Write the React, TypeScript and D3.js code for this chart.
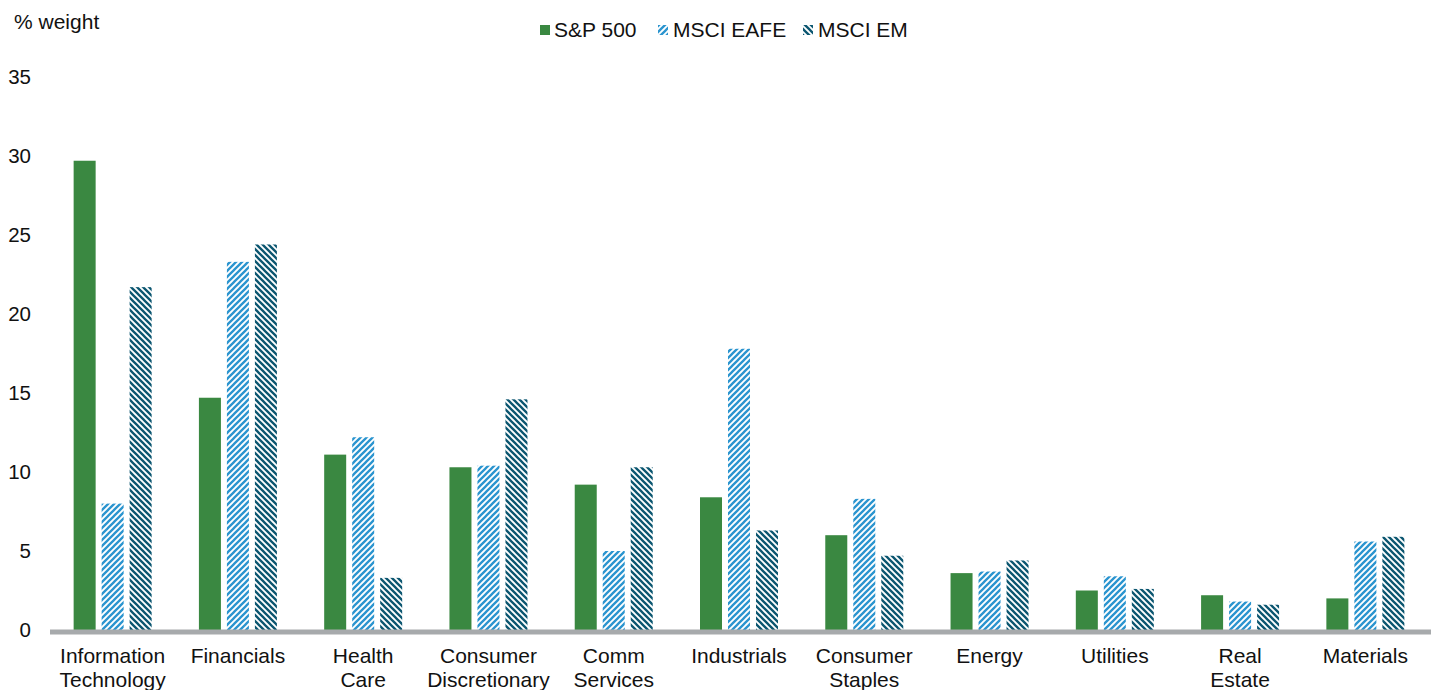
import React from "react";
import * as d3 from "d3";

const categories = [
  ["Information", "Technology"],
  ["Financials"],
  ["Health", "Care"],
  ["Consumer", "Discretionary"],
  ["Comm", "Services"],
  ["Industrials"],
  ["Consumer", "Staples"],
  ["Energy"],
  ["Utilities"],
  ["Real", "Estate"],
  ["Materials"],
];
const seriesNames = ["S&P 500", "MSCI EAFE", "MSCI EM"];
const sp500 = [29.7, 14.7, 11.1, 10.3, 9.2, 8.4, 6.0, 3.6, 2.5, 2.2, 2.0];
const eafe = [8.0, 23.3, 12.2, 10.4, 5.0, 17.8, 8.3, 3.7, 3.4, 1.8, 5.6];
const em = [21.7, 24.4, 3.3, 14.6, 10.3, 6.3, 4.7, 4.4, 2.6, 1.6, 5.9];
const yTicks = [0, 5, 10, 15, 20, 25, 30, 35];

const W = 1431;
const H = 690;
const FONT = "Liberation Sans, Arial, sans-serif";
const fills = ["#3a8841", "url(#hatchEAFE)", "url(#hatchEM)"];

export default function App() {
  const keys = categories.map((c) => c.join(" "));
  const x = d3.scaleBand<string>().domain(keys).range([50, 1428]).padding(0);
  const inner = d3
    .scaleBand<string>()
    .domain(seriesNames)
    .range([-39, 39])
    .paddingInner(0.214)
    .paddingOuter(0);
  const y = d3.scaleLinear().domain([0, 35]).range([630, 77]);
  const data = [sp500, eafe, em];

  const legendItems = [
    { name: seriesNames[0], mx: 540, tx: 554 },
    { name: seriesNames[1], mx: 658, tx: 673 },
    { name: seriesNames[2], mx: 803, tx: 818 },
  ];

  return (
    <svg
      width={W}
      height={H}
      style={{ position: "absolute", left: 0, top: 0, background: "#fff" }}
      fontFamily={FONT}
    >
      <defs>
        <pattern id="hatchEAFE" patternUnits="userSpaceOnUse" width="6" height="6">
          <rect width="6" height="6" fill="#fff" />
          <path
            d="M-1.5,1.5 L1.5,-1.5 M0,6 L6,0 M4.5,7.5 L7.5,4.5"
            stroke="#2a94cf"
            strokeWidth="2.3"
          />
        </pattern>
        <pattern id="hatchEM" patternUnits="userSpaceOnUse" width="6" height="6">
          <rect width="6" height="6" fill="#fff" />
          <path
            d="M-1.5,4.5 L1.5,7.5 M0,0 L6,6 M4.5,-1.5 L7.5,1.5"
            stroke="#0b5670"
            strokeWidth="2.3"
          />
        </pattern>
      </defs>

      <text x={14} y={29} fontSize={21} fill="#111">
        % weight
      </text>

      {legendItems.map((l, i) => (
        <g key={l.name}>
          <rect x={l.mx} y={25} width={10} height={10} fill={fills[i]} />
          <text x={l.tx} y={37} fontSize={21} fill="#111">
            {l.name}
          </text>
        </g>
      ))}

      {yTicks.map((t) => (
        <text
          key={t}
          x={31}
          y={y(t) + 7}
          fontSize={20.5}
          textAnchor="end"
          fill="#111"
        >
          {t}
        </text>
      ))}

      {keys.map((k, ci) => {
        const cx = (x(k) as number) + x.bandwidth() / 2;
        return (
          <g key={k}>
            {data.map((s, si) => (
              <rect
                key={si}
                x={cx + (inner(seriesNames[si]) as number)}
                y={y(s[ci])}
                width={inner.bandwidth()}
                height={y(0) - y(s[ci])}
                fill={fills[si]}
              />
            ))}
            {categories[ci].map((line, li) => (
              <text
                key={li}
                x={cx}
                y={663 + li * 24}
                fontSize={21}
                textAnchor="middle"
                fill="#111"
              >
                {line}
              </text>
            ))}
          </g>
        );
      })}

      <line x1={50} x2={1431} y1={y(0) + 2} y2={y(0) + 2} stroke="#a7aaac" strokeWidth={5} />
    </svg>
  );
}
